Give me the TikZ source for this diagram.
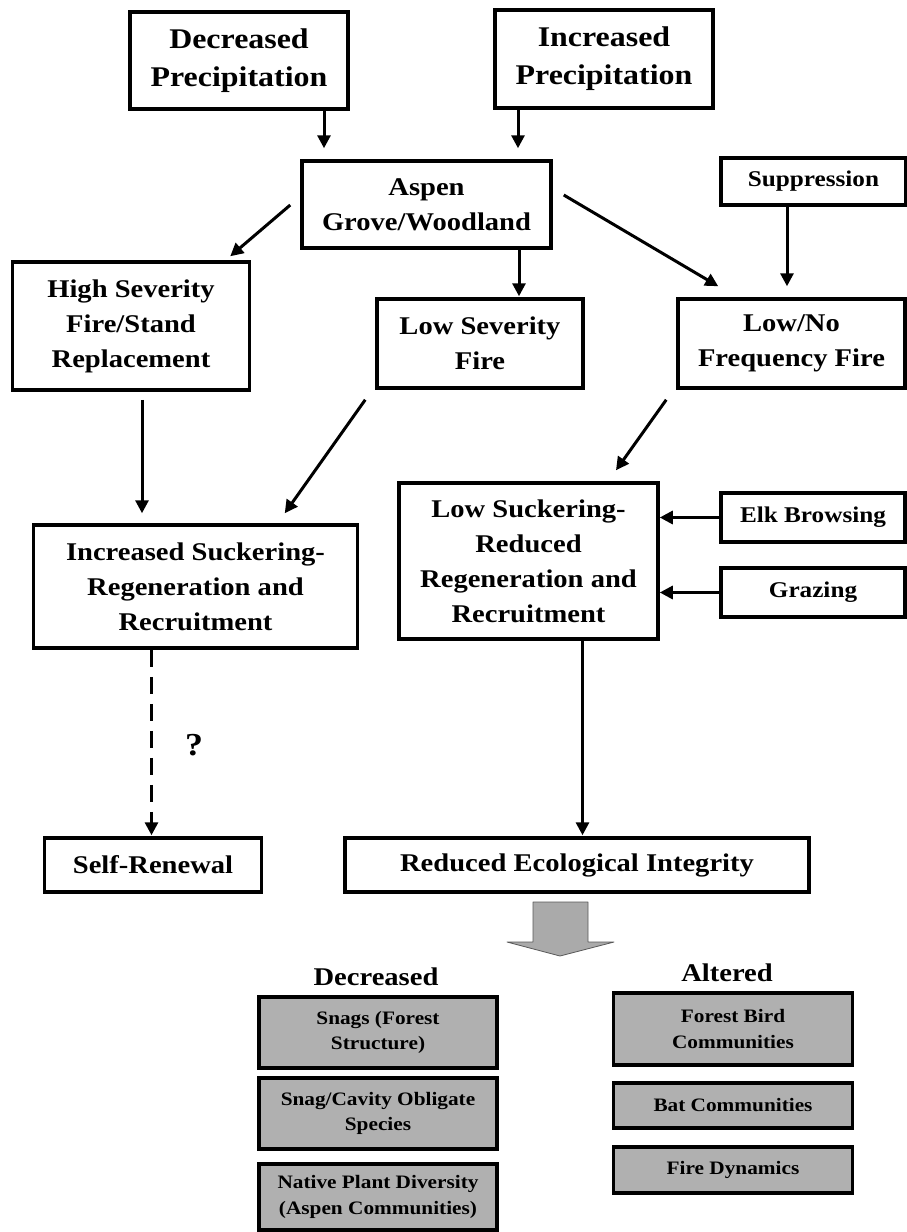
\documentclass[tikz,border=0pt]{standalone}
\usepackage{fontspec}
\setmainfont{Liberation Serif}[FakeStretch=1.12]
\usetikzlibrary{arrows.meta,calc}
\definecolor{boxgray}{RGB}{176,176,176}
\definecolor{arrowgray}{RGB}{170,170,170}
\tikzset{
  base/.style={draw, line width=3.5pt, fill=white, align=center, inner sep=0pt},
  topbox/.style={base, font=\bfseries\fontsize{28.5}{38}\selectfont},
  box/.style={base, font=\bfseries\fontsize{25.5}{35}\selectfont},
  smallbox/.style={base, font=\bfseries\fontsize{22.5}{30}\selectfont},
  graybox/.style={base, fill=boxgray, font=\bfseries\fontsize{19}{25.5}\selectfont},
  header/.style={inner sep=0pt, anchor=base, font=\bfseries\fontsize{25.5}{30}\selectfont},
  arr/.style={line width=3pt, -{Triangle[length=13pt,width=13pt]}},
  dasharr/.style={arr, dash pattern=on 17pt off 10pt},
}
\begin{document}
\begin{tikzpicture}[x=1pt, y=-1pt]
\useasboundingbox (0,0) rectangle (907,1232);

% drivers
\node[topbox, minimum width=218pt, minimum height=97pt] (dec) at (239,60.5) {Decreased\\Precipitation};
\node[topbox, minimum width=218pt, minimum height=98pt] (inc) at (604,59) {Increased\\Precipitation};
\node[box, minimum width=249pt, minimum height=87pt] (aspen) at (426.5,204.5) {Aspen\\Grove/Woodland};
\node[smallbox, minimum width=185pt, minimum height=47pt] (supp) at (813.5,181.5) {Suppression};

% fire regimes
\node[box, minimum width=237pt, minimum height=128pt] (high) at (131,326) {High Severity\\Fire/Stand\\Replacement};
\node[box, minimum width=206pt, minimum height=89pt] (lowsev) at (480,343.5) {Low Severity\\Fire};
\node[box, minimum width=227pt, minimum height=89pt] (lowno) at (791.5,343.5) {Low/No\\Frequency Fire};

% regeneration
\node[box, minimum width=324pt, minimum height=123pt] (incsuck) at (195.5,586.5) {Increased Suckering-\\Regeneration and\\Recruitment};
\node[box, minimum width=259pt, minimum height=156pt] (lowsuck) at (528.5,561) {Low Suckering-\\Reduced\\Regeneration and\\Recruitment};
\node[smallbox, minimum width=184pt, minimum height=49pt] (elk) at (813,517.5) {Elk Browsing};
\node[smallbox, minimum width=184pt, minimum height=49pt] (graz) at (813,592.5) {Grazing};

% outcomes
\node[box, minimum width=217pt, minimum height=54pt] (self) at (153,865) {Self-Renewal};
\node[box, minimum width=464pt, minimum height=54pt] (reduced) at (577,865) {Reduced Ecological Integrity};
\node[inner sep=0pt, anchor=base, font=\bfseries\fontsize{32}{32}\selectfont] (q) at (194,755) {?};

% connectors
\draw[arr] ($(dec.south)+(85,0)$) -- ($(aspen.north)+(-102.5,-11)$);
\draw[arr] ($(inc.south)+(-86,0)$) -- ($(aspen.north)+(91.5,-11)$);
\draw[arr] ($(aspen.west)+(-10,0.5)$) -- ($(high.north east)+(-21,-4)$);
\draw[arr] ($(aspen.south)+(92.5,0)$) -- ($(lowsev.north)+(39,-1)$);
\draw[arr] ($(aspen.east)+(11,-9.5)$) -- ($(lowno.north west)+(42,-11)$);
\draw[arr] ($(supp.south)+(-26.5,0)$) -- ($(lowno.north)+(-4.5,-11)$);
\draw[arr] ($(high.south)+(11,8)$) -- ($(incsuck.north)+(-53.5,-10)$);
\draw[arr] ($(lowsev.south west)+(-10,10)$) -- ($(incsuck.north east)+(-74.5,-10)$);
\draw[arr] ($(lowno.south west)+(-10,10)$) -- ($(lowsuck.north)+(87.5,-11)$);
\draw[arr] (elk.west) -- (elk.west -| lowsuck.east);
\draw[arr] (graz.west) -- (graz.west -| lowsuck.east);
\draw[dasharr] ($(incsuck.south)+(-44,0)$) -- ($(self.north)+(-1.5,-1)$);
\draw[arr] ($(lowsuck.south)+(54,0)$) -- ($(reduced.north)+(5.5,-1)$);

% broad gray arrow
\draw[fill=arrowgray, draw=black!65, line width=0.8pt, line join=round]
  (533,902) -- (588,902) -- (588,942) -- (614,942) -- (560,956) -- (507,942) -- (533,942) -- cycle;

% consequences
\node[header] (hdec) at (376,985) {Decreased};
\node[header] (halt) at (727,981) {Altered};
\node[graybox, minimum width=238pt, minimum height=71pt] (snags) at (378,1032.5) {Snags (Forest\\Structure)};
\node[graybox, minimum width=238pt, minimum height=71pt] (snagcav) at (378,1113.5) {Snag/Cavity Obligate\\Species};
\node[graybox, minimum width=238pt, minimum height=66pt] (native) at (378,1197) {Native Plant Diversity\\(Aspen Communities)};
\node[graybox, minimum width=239pt, minimum height=72pt] (bird) at (733,1029) {Forest Bird\\Communities};
\node[graybox, minimum width=239pt, minimum height=45pt] (bat) at (733,1105.5) {Bat Communities};
\node[graybox, minimum width=239pt, minimum height=46pt] (firedyn) at (733,1170) {Fire Dynamics};
\end{tikzpicture}
\end{document}
